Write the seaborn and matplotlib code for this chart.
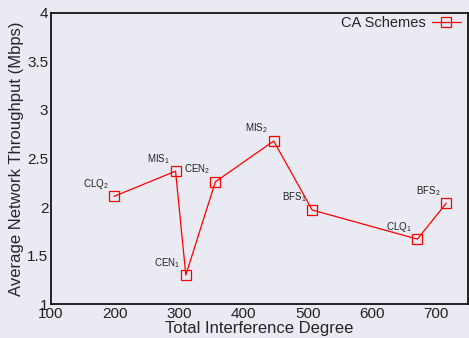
import matplotlib
matplotlib.use("Agg")
import matplotlib.pyplot as plt
import seaborn as sns
import pandas as pd

schemes = ["CLQ$_2$", "MIS$_1$", "CEN$_1$", "CEN$_2$", "MIS$_2$", "BFS$_1$", "CLQ$_1$", "BFS$_2$"]
interference = [198, 294, 310, 356, 447, 507, 671, 716]
throughput = [2.11, 2.37, 1.30, 2.26, 2.68, 1.97, 1.67, 2.04]

sns.set_style("dark")
plt.rcParams['font.family'] = ['Liberation Sans', 'DejaVu Sans']
plt.rcParams['mathtext.fontset'] = 'custom'
plt.rcParams['mathtext.rm'] = 'Liberation Sans'

df = pd.DataFrame({"x": interference, "y": throughput, "name": schemes})

fig, ax = plt.subplots(figsize=(4.69, 3.38), dpi=100)
fig.patch.set_facecolor('#eaeaf2')
ax.set_facecolor('#eaeaf2')

sns.lineplot(data=df, x="x", y="y", ax=ax, color='red', lw=0.9, marker='s',
             markersize=6.5, markerfacecolor='none', markeredgecolor='red',
             markeredgewidth=0.9, sort=False, label='CA Schemes')

for i, row in df.iterrows():
    ax.annotate(row['name'], (row['x'], row['y']), xytext=(-4, 4),
                textcoords='offset points', fontsize=7, color='#222222',
                ha='right', va='bottom')

ax.set_xlim(100, 750)
ax.set_ylim(1, 4)
ax.set_xticks([100, 200, 300, 400, 500, 600, 700])
ax.set_yticks([1, 1.5, 2, 2.5, 3, 3.5, 4])
ax.set_yticklabels(['1', '1.5', '2', '2.5', '3', '3.5', '4'])
ax.tick_params(direction='in', length=4, labelsize=11, color='black',
               labelcolor='#222222', pad=2)
ax.set_xlabel('Total Interference Degree', fontsize=12, labelpad=0)
ax.set_ylabel('Average Network Throughput (Mbps)', fontsize=12, labelpad=2)
for s in ax.spines.values():
    s.set_visible(True)
    s.set_color('black')
    s.set_linewidth(1.2)

ax.legend(loc='upper right', bbox_to_anchor=(1.0, 1.015), frameon=False,
          markerfirst=False, fontsize=10.5, handlelength=2.0,
          handletextpad=0.4, borderaxespad=0.1)

plt.subplots_adjust(left=0.109, right=0.998, top=0.962, bottom=0.10)
plt.savefig('out.png', dpi=100, facecolor=fig.get_facecolor())
